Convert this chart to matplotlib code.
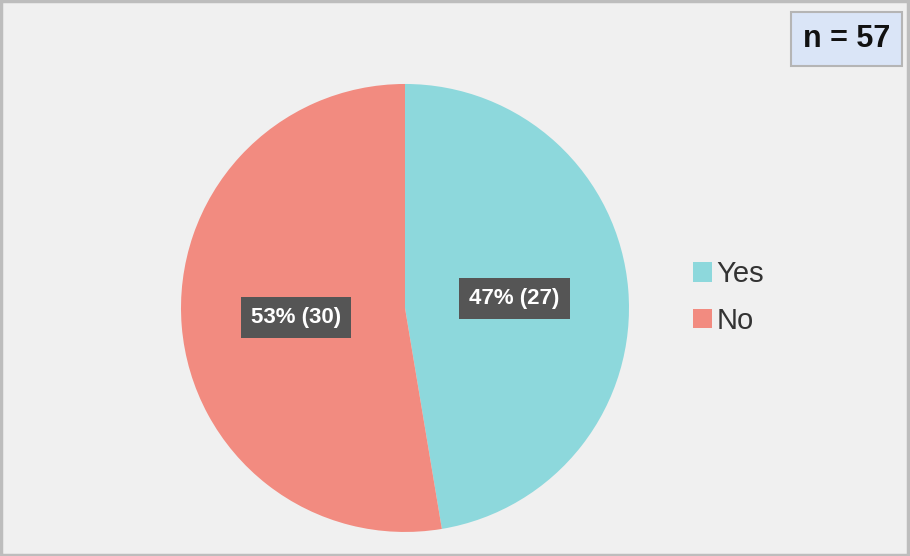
import matplotlib
matplotlib.use("Agg")
import matplotlib.pyplot as plt
from matplotlib.patches import Rectangle

categories = ["Yes", "No"]
counts = [27, 30]
colors = ["#8dd8dc", "#f28b80"]
n_total = sum(counts)

plt.rcParams['font.family'] = ['Liberation Sans', 'DejaVu Sans']

fig = plt.figure(figsize=(9.1, 5.56), dpi=100)
fig.patch.set_facecolor("#f0f0f0")
fig.patches.append(Rectangle((0.001, 0.002), 0.997, 0.996, transform=fig.transFigure,
                             fill=False, edgecolor="#bdbdbd", linewidth=2.5))

ax = fig.add_axes([0.1989, 0.0432, 0.4923, 0.8058])
ax.set_facecolor("#f0f0f0")

def fmt(pct):
    v = int(round(pct * n_total / 100.0))
    return f"{pct:.0f}% ({v})"

wedges, texts, autotexts = ax.pie(counts, colors=colors, startangle=90, counterclock=False,
                                  autopct=fmt, pctdistance=0.49, radius=1.0,
                                  wedgeprops=dict(linewidth=0))
for t in autotexts:
    t.set_color("white")
    t.set_fontsize(16)
    t.set_fontweight("bold")
    t.set_bbox(dict(boxstyle="square,pad=0.45", facecolor="#555555", edgecolor="none"))
ax.set_xlim(-1, 1)
ax.set_ylim(-1, 1)
ax.set_aspect("equal")

leg = fig.legend(wedges, categories, loc="center left", bbox_to_anchor=(0.733, 0.465),
                 frameon=False, fontsize=21, handlelength=0.65, handleheight=0.65,
                 handletextpad=0.15, labelspacing=0.62, labelcolor="#333333")

fig.text(0.9305, 0.93, f"n = {n_total}", ha="center", va="center", fontsize=22,
         fontweight="bold", color="#111111",
         bbox=dict(boxstyle="square,pad=0.38", facecolor="#dae5f7", edgecolor="#b5b5b5", linewidth=1.5))

fig.savefig("out.png", dpi=100, facecolor=fig.get_facecolor())
